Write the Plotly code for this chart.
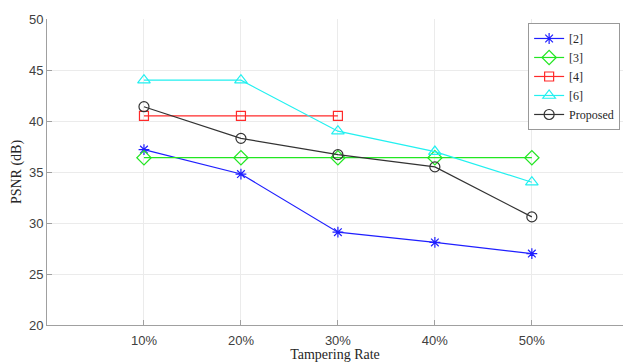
import plotly.graph_objects as go

# Tampering rate (%) on the x axis
rates = [10, 20, 30, 40, 50]

# PSNR (dB) for each method
psnr_2 = [37.2, 34.8, 29.1, 28.1, 27.0]
psnr_3 = [36.4, 36.4, 36.4, 36.4, 36.4]
psnr_4 = [40.5, 40.5, 40.5]
psnr_6 = [44.0, 44.0, 39.0, 37.0, 34.0]
psnr_proposed = [41.4, 38.3, 36.7, 35.5, 30.6]

series = [
    ("[2]", rates, psnr_2, "#1f1fff", "asterisk-open", 9),
    ("[3]", rates, psnr_3, "#22e622", "diamond-open", 11),
    ("[4]", rates[:3], psnr_4, "#ff2a2a", "square-open", 9),
    ("[6]", rates, psnr_6, "#22f0f0", "triangle-up-open", 11),
    ("Proposed", rates, psnr_proposed, "#333333", "circle-open", 10),
]

fig = go.Figure()
for name, xs, ys, color, symbol, size in series:
    fig.add_trace(go.Scatter(
        x=xs, y=ys, name=name, mode="lines+markers",
        line=dict(color=color, width=1.2),
        marker=dict(symbol=symbol, size=size, color=color,
                    line=dict(color=color, width=1.2)),
    ))

tick_font = dict(family="Liberation Sans, Arial", size=13, color="#404040")
title_font = dict(family="Liberation Serif, Times New Roman", size=14, color="#262626")

fig.update_layout(
    width=623, height=362,
    margin=dict(l=47, r=0, t=19, b=37, autoexpand=False),
    paper_bgcolor="white", plot_bgcolor="white",
    showlegend=True,
    legend=dict(
        x=0.995, y=0.987, xanchor="right", yanchor="top",
        bgcolor="white", bordercolor="#999999", borderwidth=1,
        font=dict(family="Liberation Serif, Times New Roman", size=12, color="#262626"),
        itemwidth=30, tracegroupgap=0,
    ),
)

fig.update_xaxes(
    range=[0, 59.4], tickvals=rates, ticktext=[f"{r}%" for r in rates],
    showgrid=True, gridcolor="#ebebeb", gridwidth=1,
    showline=True, linecolor="#a0a0a0", linewidth=1,
    ticks="inside", ticklen=5, tickcolor="#a0a0a0",
    tickfont=tick_font, zeroline=False, ticklabelstandoff=3,
    title=dict(text="Tampering Rate", font=title_font, standoff=10),
)
fig.update_yaxes(
    range=[20, 50], tickvals=[20, 25, 30, 35, 40, 45, 50],
    showgrid=True, gridcolor="#ebebeb", gridwidth=1,
    showline=True, linecolor="#a0a0a0", linewidth=1,
    ticks="inside", ticklen=5, tickcolor="#a0a0a0",
    tickfont=tick_font, zeroline=False,
    title=dict(text="PSNR (dB)", font=title_font, standoff=4),
)

fig.write_html("out.html")
